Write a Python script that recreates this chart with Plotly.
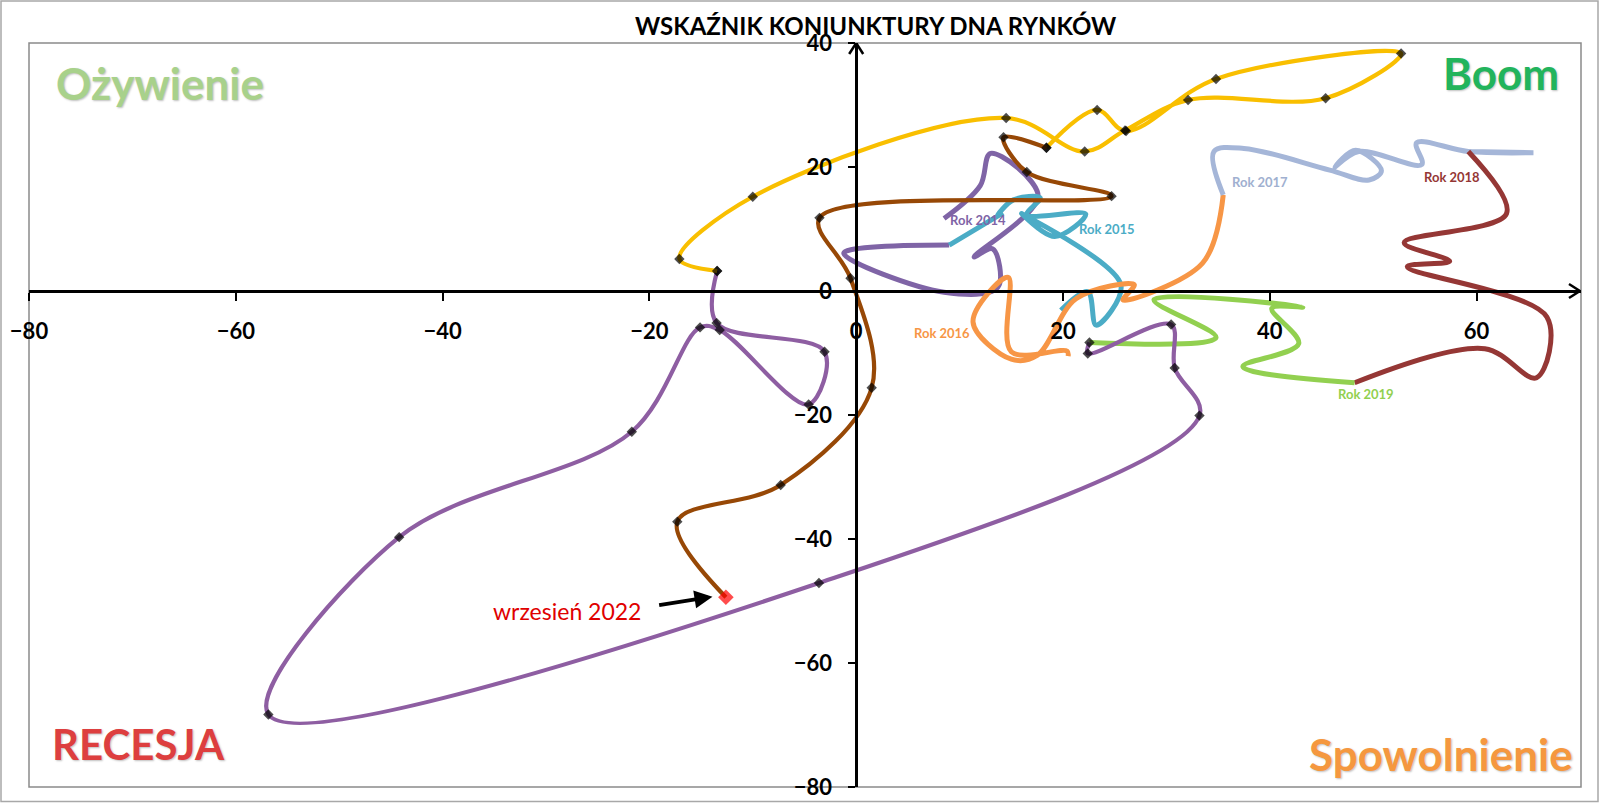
import plotly.graph_objects as go

# ---------------- data ----------------
title_text = "WSKAŹNIK KONIUNKTURY DNA RYNKÓW"

x_ticks = [-80, -60, -40, -20, 0, 20, 40, 60]
y_ticks = [-80, -60, -40, -20, 0, 20, 40]

y2014_x = [8.5, 12.0, 13.0, 17.6, 11.4, 13.2, 13.7, 8.5, -1.2, 9.0]
y2014_y = [11.7, 17.0, 22.2, 15.3, 5.5, 6.8, 0.6, -0.2, 6.1, 7.4]

y2015_x = [9.0, 14.2, 13.6, 15.2, 17.8, 16.5, 22.2, 19.2, 16.0, 25.6, 23.2, 22.4, 19.8]
y2015_y = [7.4, 12.6, 12.0, 14.7, 15.0, 12.3, 12.4, 8.8, 12.5, 1.0, -5.5, -0.1, -3.1]

y2016_x = [20.5, 20.4, 15.0, 14.7, 11.3, 15.0, 17.5, 21.3, 26.9, 25.8, 33.5, 35.5]
y2016_y = [-10.5, -9.7, -9.8, 2.2, -5.0, -11.0, -10.4, -1.2, 1.0, -1.45, 4.5, 15.5]

y2017_x = [35.5, 34.6, 37.5, 45.8, 49.6, 50.8, 48.3, 46.3, 48.6, 54.7, 54.2, 59.2, 65.5, 59.2]
y2017_y = [15.5, 22.5, 23.0, 19.5, 17.9, 19.4, 22.7, 20.0, 22.5, 20.4, 23.9, 22.5, 22.3, 22.5]

y2018_x = [59.2, 62.9, 53.0, 57.4, 53.3, 66.8, 65.8, 60.8, 48.2]
y2018_y = [22.5, 12.5, 7.8, 4.8, 3.9, -4.2, -14.0, -9.3, -14.8]

y2019_x = [48.2, 37.4, 42.8, 40.2, 43.2, 28.8, 34.8, 22.56]
y2019_y = [-14.8, -12.2, -8.5, -2.8, -2.6, -1.4, -7.5, -8.3]

y2020_x = [22.56, 22.4, 30.46, 30.8, 33.2, -3.6, -56.85, -44.2, -21.7, -15.1, -13.2, -4.6, -3.06, -13.5, -13.45]
y2020_y = [-8.3, -10.07, -5.4, -12.4, -20.1, -47.1, -68.3, -39.7, -22.7, -5.87, -6.3, -18.3, -9.8, -5.17, 3.23]

y2021_x = [-13.45, -17.1, -10.0, 14.5, 22.1, 26.0, 32.1, 45.4, 52.7, 34.8, 26.1, 23.3, 18.4]
y2021_y = [3.23, 5.17, 15.2, 27.9, 22.5, 25.9, 30.8, 31.1, 38.3, 34.2, 25.8, 29.2, 23.1]

y2022_x = [18.4, 14.25, 16.5, 24.7, -3.55, -0.55, 1.5, -7.3, -17.3, -12.6]
y2022_y = [23.1, 24.8, 19.2, 15.3, 11.8, 2.05, -15.6, -31.3, -37.2, -49.4]

year_labels = ["Rok 2014", "Rok 2015", "Rok 2016", "Rok 2017", "Rok 2018", "Rok 2019"]
year_label_x = [11.8, 24.3, 8.3, 39.1, 57.6, 49.3]
year_label_y = [11.4, 10.0, -6.7, 17.6, 18.4, -16.6]

last_label = "wrzesień 2022"
quadrants = ["Ożywienie", "Boom", "RECESJA", "Spowolnienie"]

# ---------------- styling ----------------
C2014, C2015, C2016 = "#7F64A6", "#4BACC6", "#F79646"
C2017, C2018, C2019 = "#A5B6D8", "#953735", "#92D050"
C2020, C2021, C2022 = "#8E5EA2", "#F9BF00", "#974806"

fig = go.Figure()

def add_line(xs, ys, color, width=5):
    fig.add_trace(go.Scatter(x=xs, y=ys, mode="lines",
                             line=dict(color=color, width=width, shape="spline", smoothing=1.0),
                             hoverinfo="skip"))

add_line(y2014_x, y2014_y, C2014)
add_line(y2015_x, y2015_y, C2015)
add_line(y2016_x, y2016_y, C2016)
add_line(y2017_x, y2017_y, C2017)
add_line(y2018_x, y2018_y, C2018)
add_line(y2019_x, y2019_y, C2019)

def add_marked(xs, ys, color, last_red=False):
    n = len(xs)
    mcol = ["black"] * n
    msize = [8] * n
    if last_red:
        mcol[-1] = "#FF0000"
        msize[-1] = 12
    fig.add_trace(go.Scatter(x=xs, y=ys, mode="lines+markers",
                             line=dict(color=color, width=4.2, shape="spline", smoothing=1.0),
                             marker=dict(symbol="diamond", size=msize, color=mcol, line=dict(width=0)),
                             hoverinfo="skip"))

add_marked(y2020_x, y2020_y, C2020)
add_marked(y2021_x, y2021_y, C2021)
add_marked(y2022_x, y2022_y, C2022, last_red=True)

label_colors = [C2014, C2015, C2016, "#A0B0D0", C2018, C2019]
for t, lx, ly, c in zip(year_labels, year_label_x, year_label_y, label_colors):
    fig.add_annotation(x=lx, y=ly, text=t, showarrow=False,
                       font=dict(family="Lato", size=13, color=c, weight="bold"))

# last point annotation
fig.add_annotation(x=-28.0, y=-51.65, text=last_label, showarrow=False,
                   font=dict(family="Lato", size=23, color="#E00000"))
fig.add_annotation(x=y2022_x[-1] - 1.3, y=y2022_y[-1] + 0.1, ax=-19.2, ay=-50.7,
                   axref="x", ayref="y", xref="x", yref="y", text="",
                   showarrow=True, arrowhead=2, arrowsize=0.9, arrowwidth=4, arrowcolor="black")

# quadrant labels
shadow = "1px 1px 2px rgba(0,0,0,0.25)"
fig.add_annotation(x=-77.6, y=33.6, text=quadrants[0], showarrow=False, xanchor="left",
                   font=dict(family="Lato", size=44, color="#A8D18B", weight="bold", shadow=shadow))
fig.add_annotation(x=68.2, y=35.2, text=quadrants[1], showarrow=False, xanchor="right",
                   font=dict(family="Lato", size=44, color="#22B45C", weight="bold", shadow=shadow))
fig.add_annotation(x=-78.0, y=-73.0, text=quadrants[2], showarrow=False, xanchor="left",
                   font=dict(family="Lato", size=42, color="#DD3F3F", weight="bold", shadow=shadow))
fig.add_annotation(x=69.5, y=-74.6, text=quadrants[3], showarrow=False, xanchor="right",
                   font=dict(family="Lato", size=44, color="#F5983F", weight="bold", shadow=shadow))

# title
fig.add_annotation(xref="paper", yref="paper", x=0.5455, y=1.0233, yanchor="middle",
                   text=title_text, showarrow=False,
                   font=dict(family="Lato", size=24, color="black", weight="bold"))

# axis arrow heads (pixel-sized chevrons)
for (dx, dy) in [(-11, 7), (-11, -7)]:
    fig.add_shape(type="line", xref="x", yref="y", xsizemode="pixel", ysizemode="pixel",
                  xanchor=70.0, yanchor=0, x0=0, y0=0, x1=dx, y1=dy,
                  line=dict(color="black", width=2.5))
for (dx, dy) in [(-7, -11), (7, -11)]:
    fig.add_shape(type="line", xref="x", yref="y", xsizemode="pixel", ysizemode="pixel",
                  xanchor=0, yanchor=40, x0=0, y0=0, x1=dx, y1=dy,
                  line=dict(color="black", width=2.5))

# plot frame and outer border
fig.add_shape(type="rect", xref="paper", yref="paper", x0=0, y0=0, x1=1, y1=1,
              line=dict(color="#8A8A8A", width=1.5), layer="below")
L, R, T, B = 29, 19, 43, 16
PW, PH = 1600 - L - R, 803 - T - B
fig.add_shape(type="rect", xref="paper", yref="paper",
              x0=(-L + 1) / PW, x1=1 + (R - 2) / PW, y0=-(B - 1.5) / PH, y1=1 + (T - 1) / PH,
              line=dict(color="#A8A8A8", width=1.5), layer="below")

XR = [-80, 70.1]
YR = [-80, 40]
fig.update_layout(
    width=1600, height=803,
    margin=dict(l=L, r=R, t=T, b=B, autoexpand=False),
    paper_bgcolor="white", plot_bgcolor="white",
    showlegend=False,
    xaxis=dict(range=XR, tickvals=x_ticks, showgrid=False, zeroline=False,
               showline=True, linecolor="black", linewidth=2.5, automargin=False,
               anchor="free", position=(0 - YR[0]) / (YR[1] - YR[0]),
               ticks="outside", ticklen=8, tickwidth=2, tickcolor="black",
               ticklabelstandoff=12,
               tickfont=dict(family="Lato", size=22, color="black", weight="bold")),
    yaxis=dict(range=YR, tickvals=y_ticks, showgrid=False, zeroline=False,
               showline=True, linecolor="black", linewidth=2.5, automargin=False,
               anchor="free", position=(0 - XR[0]) / (XR[1] - XR[0]),
               ticks="outside", ticklen=7, tickwidth=2, tickcolor="black",
               ticklabelstandoff=12,
               tickfont=dict(family="Lato", size=22, color="black", weight="bold")),
)

fig.write_html("out.html")
